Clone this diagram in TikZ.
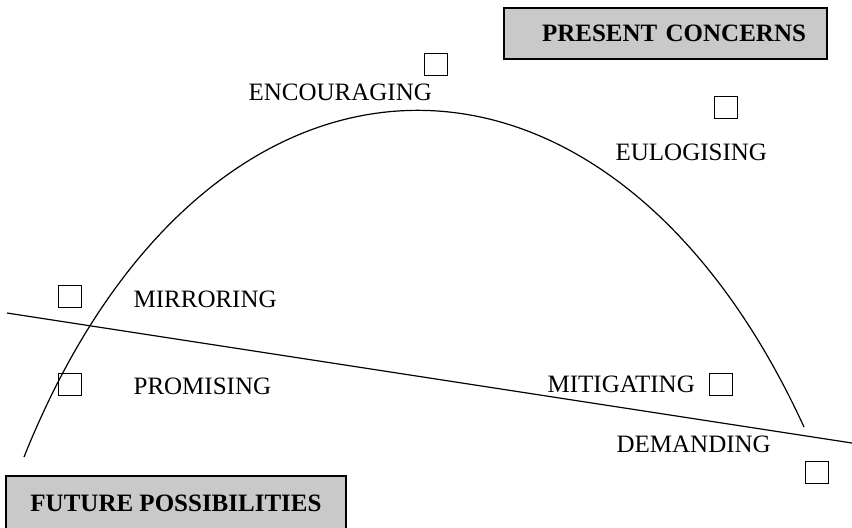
\documentclass[tikz,border=0pt]{standalone}
\usepackage{fontspec}
\setmainfont{Liberation Serif}
\usetikzlibrary{positioning}
\tikzstyle{word} = [inner sep=0pt, anchor=west, font=\fontsize{12.5}{15}\selectfont]
\tikzstyle{checkbox} = [draw, line width=0.5pt, minimum width=11.5pt,
minimum height=11pt, inner sep=0pt]
\tikzstyle{banner} = [draw, fill=black!21, line width=0.7pt, minimum height=25.5pt,
font=\bfseries\fontsize{12.5}{15}\selectfont]

\begin{document}
\begin{tikzpicture}[x=0.5pt, y=-0.5pt, line width=0.6pt]
    \useasboundingbox (0,0) rectangle (852,527);
    % Headings
    \node [banner, minimum width=161.5pt, text width=140.5pt, align=right] at (665.5,33.5) (present) {PRESENT CONCERNS};
    \node [banner, minimum width=170pt, minimum height=27pt] at (176,503) (future) {FUTURE POSSIBILITIES};
    % Styles of response
    \node [word] at (248,92) (encouraging) {ENCOURAGING};
    \node [word] at (615,152) (eulogising) {EULOGISING};
    \node [word] at (133,299.5) (mirroring) {MIRRORING};
    \node [word] at (133,386) (promising) {PROMISING};
    \node [word] at (547,384) (mitigating) {MITIGATING};
    \node [word] at (616,444) (demanding) {DEMANDING};
    % Boxes to tick
    \node [checkbox] at (436,64) (boxEnc) {};
    \node [checkbox] at (726,107) (boxEul) {};
    \node [checkbox] at (70,296) (boxMir) {};
    \node [checkbox] at (70,384) (boxPro) {};
    \node [checkbox] at (721,384) (boxMit) {};
    \node [checkbox] at (817,472.5) (boxDem) {};
    % Dividing line and arc
    \coordinate (lineL) at (7,313);
    \coordinate (lineR) at (852,443);
    \coordinate (arcL) at (24,457);
    \coordinate (arcR) at (804,427);
    \draw (lineL) -- (lineR);
    \draw (arcL) .. controls (205,5) and (606,-5) .. (arcR);
\end{tikzpicture}
\end{document}
